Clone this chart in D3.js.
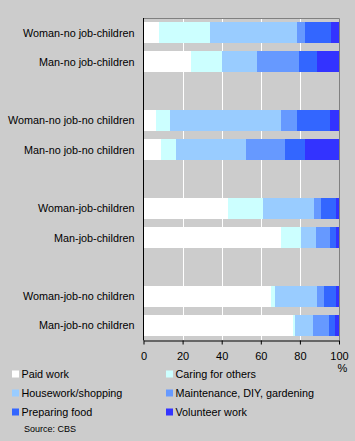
<!DOCTYPE html>
<html>
<head>
<meta charset="utf-8">
<script src="https://cdn.jsdelivr.net/npm/d3@7"></script>
<style>
  html, body { margin: 0; padding: 0; background: #cccccc; }
  svg { display: block; font-family: "Liberation Sans", Arial, sans-serif; }
</style>
</head>
<body>
<svg id="chart" width="355" height="441"></svg>
<script>
const categories = [
  "Woman-no job-children", "Man-no job-children",
  "Woman-no job-no children", "Man-no job-no children",
  "Woman-job-children", "Man-job-children",
  "Woman-job-no children", "Man-job-no children"
];
const seriesNames = ["Paid work", "Caring for others", "Housework/shopping",
  "Maintenance, DIY, gardening", "Preparing food", "Volunteer work"];
const paidWork     = [8.0, 24.4, 6.4, 9.0, 43.1, 70.3, 65.2, 76.5];
const caring       = [26.0, 15.9, 7.2, 7.7, 18.0, 10.3, 2.1, 1.0];
const housework    = [44.6, 17.9, 56.9, 35.9, 26.1, 7.6, 21.4, 9.2];
const maintenance  = [4.0, 21.5, 8.2, 20.0, 3.6, 7.2, 3.6, 8.2];
const food         = [13.4, 9.3, 16.9, 10.2, 7.7, 3.1, 6.2, 3.1];
const volunteer    = [4.0, 10.9, 4.4, 17.2, 1.5, 1.5, 1.5, 2.0];
const xTicks = [0, 20, 40, 60, 80, 100];
const colors = ["#ffffff", "#ccffff", "#99ccff", "#6699ff", "#3366ff", "#3333ff"];

const seriesValues = [paidWork, caring, housework, maintenance, food, volunteer];
const table = categories.map((c, i) => {
  const row = { category: c };
  seriesNames.forEach((s, j) => row[s] = seriesValues[j][i]);
  return row;
});
// slot order with blank gaps between pairs
const slots = [categories[0], categories[1], "gap1", categories[2], categories[3], "gap2",
               categories[4], categories[5], "gap3", categories[6], categories[7]];

const svg = d3.select("#chart");
const plotL = 143.5, plotR = 339, plotT = 18, plotB = 340;
const fs = 10.8;

const x = d3.scaleLinear().domain([0, 100]).range([plotL, plotR]);
const y = d3.scaleBand().domain(slots).range([plotT, plotB]).paddingInner(0.28).paddingOuter(0.14);

// gridlines
svg.append("g").selectAll("line").data(xTicks.filter(t => t > 0 && t < 100)).join("line")
  .attr("x1", d => Math.round(x(d)) + 0.5).attr("x2", d => Math.round(x(d)) + 0.5)
  .attr("y1", plotT).attr("y2", plotB)
  .attr("stroke", "#ffffff").attr("stroke-width", 1);

// bars
const stacked = d3.stack().keys(seriesNames)(table);
svg.append("g").selectAll("g").data(stacked).join("g")
  .attr("fill", (d, i) => colors[i])
  .selectAll("rect").data(d => d).join("rect")
  .attr("x", d => x(d[0]))
  .attr("width", d => Math.max(0, x(d[1]) - x(d[0])))
  .attr("y", d => y(d.data.category))
  .attr("height", y.bandwidth())
  .attr("shape-rendering", "crispEdges");

// border top & right
svg.append("path")
  .attr("d", `M${plotL},${plotT + 0.5}H${plotR + 0.5}V${plotB}`)
  .attr("fill", "none").attr("stroke", "#808080").attr("stroke-width", 1);

// left axis line
svg.append("line").attr("x1", plotL).attr("x2", plotL).attr("y1", plotT).attr("y2", plotB + 0.5)
  .attr("stroke", "#000").attr("stroke-width", 1);

// bottom axis
const xAxis = d3.axisBottom(x).tickValues(xTicks).tickSize(4).tickSizeOuter(0).tickFormat(d3.format("d"));
const gx = svg.append("g").attr("transform", `translate(0,${plotB + 0.5})`).call(xAxis);
gx.select(".domain").attr("stroke", "#000");
gx.selectAll(".tick line").attr("stroke", "#000");
gx.selectAll(".tick text").attr("font-size", 11).attr("fill", "#000")
  .attr("font-family", "'Liberation Sans', Arial, sans-serif")
  .attr("y", 0).attr("dy", null).attr("transform", "translate(0,19.5)");
svg.append("text").attr("x", 342.5).attr("y", 372).attr("text-anchor", "middle")
  .attr("font-size", 11).text("%");

// category labels
svg.append("g").selectAll("text").data(categories).join("text")
  .attr("x", 134.5)
  .attr("y", d => y(d) + y.bandwidth() / 2 + 4)
  .attr("text-anchor", "end")
  .attr("font-size", fs)
  .attr("fill", "#000")
  .text(d => d);

// legend
const legendPos = [[12, 378], [166, 378], [12, 397], [166, 397], [12, 416], [166, 416]];
const lg = svg.append("g").selectAll("g").data(seriesNames).join("g")
  .attr("transform", (d, i) => `translate(${legendPos[i][0]},${legendPos[i][1]})`);
lg.append("rect").attr("x", 0).attr("y", -7.5).attr("width", 7).attr("height", 7)
  .attr("fill", (d, i) => colors[i]);
lg.append("text").attr("x", 9.5).attr("y", 0).attr("font-size", fs).attr("fill", "#000").text(d => d);

svg.append("text").attr("x", 24).attr("y", 432).attr("font-size", 9).attr("fill", "#000").text("Source: CBS");
</script>
</body>
</html>
